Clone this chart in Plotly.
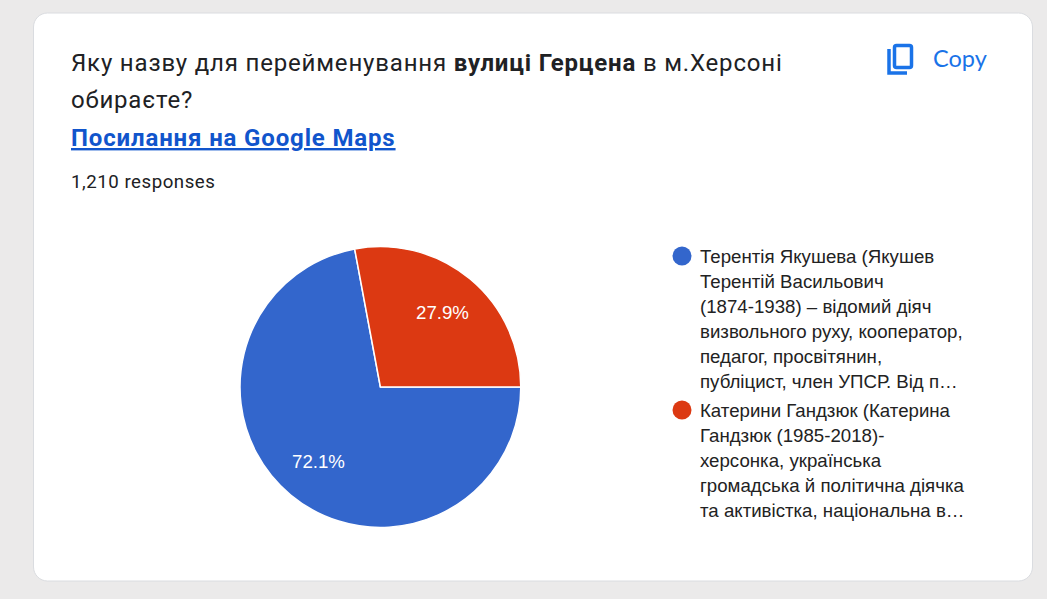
import math

import plotly.graph_objects as go

WIDTH, HEIGHT = 1047, 599

# Survey results
option_names = ["Терентія Якушева", "Катерини Гандзюк"]
response_counts = [872, 338]
slice_colors = ["#3366cc", "#dc3912"]

# Header text
question_prefix = "Яку назву для перейменування "
question_bold = "вулиці Герцена"
question_suffix = " в м.Херсоні"
question_second_line = "обираєте?"
link_text = "Посилання на Google Maps"
responses_text = "1,210 responses"
copy_text = "Copy"

# Wrapped legend text for each option
legend_lines = [
    ["Терентія Якушева (Якушев", "Терентій Васильович", "(1874-1938) – відомий діяч",
     "визвольного руху, кооператор,", "педагог, просвітянин,", "публіцист, член УПСР. Від п…"],
    ["Катерини Гандзюк (Катерина", "Гандзюк (1985-2018)-", "херсонка, українська",
     "громадська й політична діячка", "та активістка, національна в…"],
]


def px(x):
    return x / WIDTH


def py(y):
    return 1 - y / HEIGHT


def rounded_rect(x0, y0, x1, y1, r):
    """Closed rounded rectangle path in paper coordinates, from pixel corners."""
    k = r * 0.45
    return (
        f"M{px(x0 + r)},{py(y0)} L{px(x1 - r)},{py(y0)} "
        f"C{px(x1 - k)},{py(y0)} {px(x1)},{py(y0 + k)} {px(x1)},{py(y0 + r)} "
        f"L{px(x1)},{py(y1 - r)} "
        f"C{px(x1)},{py(y1 - k)} {px(x1 - k)},{py(y1)} {px(x1 - r)},{py(y1)} "
        f"L{px(x0 + r)},{py(y1)} "
        f"C{px(x0 + k)},{py(y1)} {px(x0)},{py(y1 - k)} {px(x0)},{py(y1 - r)} "
        f"L{px(x0)},{py(y0 + r)} "
        f"C{px(x0)},{py(y0 + k)} {px(x0 + k)},{py(y0)} {px(x0 + r)},{py(y0)} Z"
    )


def text_at(x, y, text, size, color, family="Roboto", anchor="left", spacing=0.0):
    if spacing:
        text = f'<span style="letter-spacing:{spacing}px">{text}</span>'
    return dict(
        x=px(x), y=py(y), xref="paper", yref="paper", text=text, showarrow=False,
        xanchor=anchor, yanchor="middle", align="left", borderpad=0, borderwidth=0,
        font=dict(family=family, size=size, color=color),
    )


PIE_CX, PIE_CY, PIE_R = 380.4, 387, 140.4

fig = go.Figure(
    go.Pie(
        labels=option_names,
        values=response_counts,
        sort=False,
        direction="clockwise",
        rotation=90,
        marker=dict(colors=slice_colors, line=dict(color="#ffffff", width=1.5)),
        textinfo="none",
        domain=dict(
            x=[px(PIE_CX - PIE_R), px(PIE_CX + PIE_R)],
            y=[py(PIE_CY + PIE_R), py(PIE_CY - PIE_R)],
        ),
        showlegend=False,
        hoverinfo="label+percent",
    )
)

shapes = [
    dict(type="path", xref="paper", yref="paper", path=rounded_rect(33.5, 13, 1032.5, 581, 14),
         fillcolor="#ffffff", line=dict(color="#dadce0", width=1), layer="below"),
    # Copy icon: front sheet and the corner of the sheet behind it
    dict(type="path", xref="paper", yref="paper", path=rounded_rect(894.5, 45.5, 911.5, 67.5, 2),
         fillcolor="rgba(0,0,0,0)", line=dict(color="#1a73e8", width=3.5)),
    dict(type="path", xref="paper", yref="paper",
         path=f"M{px(889)},{py(49)} L{px(889)},{py(73)} L{px(907)},{py(73)}",
         line=dict(color="#1a73e8", width=3.5)),
]

annotations = [
    text_at(71, 63,
            f"{question_prefix}<b>{question_bold}</b>{question_suffix}",
            24, "#202124", spacing=0.82),
    text_at(71, 100, question_second_line, 24, "#202124", spacing=0.82),
    text_at(71, 138, f"<b><u>{link_text}</u></b>", 24, "#1155cc", spacing=0.85),
    text_at(71, 181.5, responses_text, 18.67, "#202124", spacing=0.53),
    text_at(933, 58, copy_text, 23.5, "#1a73e8", family="Lato"),
]

# Percentage labels sit on each slice's mid-angle, at a fixed share of the radius
LABEL_RADIUS_SHARE = 0.69
total = sum(response_counts)
start_fraction = 0.25
for count in response_counts:
    share = count / total
    mid_angle = 2 * math.pi * (start_fraction + share / 2)
    annotations.append(text_at(
        PIE_CX + PIE_R * LABEL_RADIUS_SHARE * math.sin(mid_angle),
        PIE_CY - PIE_R * LABEL_RADIUS_SHARE * math.cos(mid_angle),
        f"{share:.1%}", 18.67, "#ffffff", family="Liberation Sans", anchor="center",
    ))
    start_fraction += share

# Legend blocks: a round marker beside each option's wrapped lines
legend_tops = [256.5, 410.5]
LEGEND_LINE_HEIGHT = 24.9
for top, lines, color in zip(legend_tops, legend_lines, slice_colors):
    shapes.append(dict(type="circle", xref="paper", yref="paper",
                       x0=px(672.5), x1=px(691.5), y0=py(top + 9), y1=py(top - 10),
                       fillcolor=color, line=dict(width=0)))
    for i, line in enumerate(lines):
        annotations.append(text_at(700, top + i * LEGEND_LINE_HEIGHT, line, 18.67,
                                   "#222222", family="Liberation Sans"))

fig.update_layout(
    width=WIDTH,
    height=HEIGHT,
    autosize=False,
    margin=dict(l=0, r=0, t=0, b=0),
    paper_bgcolor="#ebeaea",
    plot_bgcolor="#ebeaea",
    shapes=shapes,
    annotations=annotations,
)

fig.write_html("out.html", config=dict(displayModeBar=False))
